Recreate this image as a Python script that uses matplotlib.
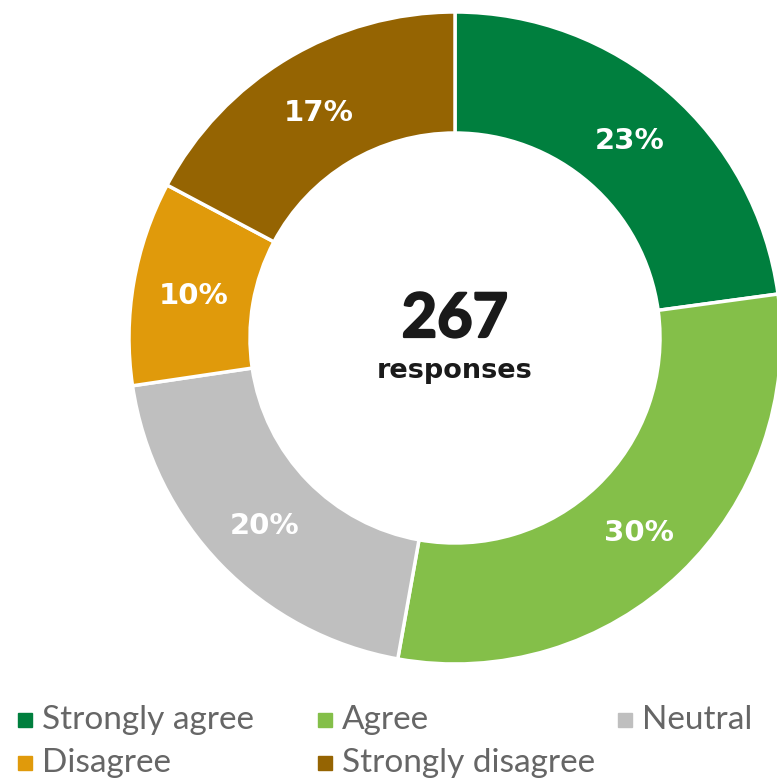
import matplotlib
matplotlib.use("Agg")
import matplotlib.pyplot as plt
import matplotlib.patheffects as pe
from matplotlib.patches import Rectangle
import numpy as np

categories = ["Strongly agree", "Agree", "Neutral", "Disagree", "Strongly disagree"]
counts = [61, 80, 53, 27, 46]          # estimated responses per category (sum 267)
pct_labels = [23, 30, 20, 10, 17]      # percentages shown on the chart
colors = ["#007F3E", "#84BF49", "#BFBFBF", "#E09A0B", "#956402"]
total_responses = 267

W, H = 777, 781
fig = plt.figure(figsize=(W / 100, H / 100), dpi=100)
ax = fig.add_axes([0, 0, 1, 1])

cx, cy = 455, H - 338
R = 326
width = 121

ax.pie(counts, colors=colors, startangle=90, counterclock=False,
       center=(cx, cy), radius=R, frame=True,
       wedgeprops=dict(width=width, edgecolor="white", linewidth=2.5))
ax.set_xlim(0, W)
ax.set_ylim(0, H)
ax.set_aspect("equal")
ax.axis("off")

cum = 0
rl = R - width / 2
tot = sum(counts)
for v, p in zip(counts, pct_labels):
    mid = 90 - (cum + v / 2) / tot * 360
    cum += v
    x = cx + rl * np.cos(np.radians(mid))
    y = cy + rl * np.sin(np.radians(mid)) - 3
    ax.text(x, y, f"{p}%", color="white", fontsize=21, fontweight="bold",
            family="DejaVu Sans", ha="center", va="center")

ax.text(cx, H - 319, str(total_responses), fontsize=44, fontweight="bold",
        family="Lato", ha="center", va="center", color="#1a1a1a",
        path_effects=[pe.withStroke(linewidth=1.6, foreground="#1a1a1a")])
ax.text(cx, H - 371, "responses", fontsize=19.5, fontweight="bold",
        family="DejaVu Sans", ha="center", va="center", color="#1a1a1a")

# legend
col_x = [18, 318, 618]
row_y = [H - 720, H - 763]
for i, (cat, col) in enumerate(zip(categories, colors)):
    r, c = divmod(i, 3)
    x0 = col_x[c]
    y0 = row_y[r]
    ax.add_patch(Rectangle((x0, y0 - 7), 14, 14, color=col, clip_on=False))
    ax.text(x0 + 24, y0, cat, fontsize=24, family="Lato", fontweight="normal",
            color="#666666", ha="left", va="center")

fig.savefig("out.png", dpi=100)
